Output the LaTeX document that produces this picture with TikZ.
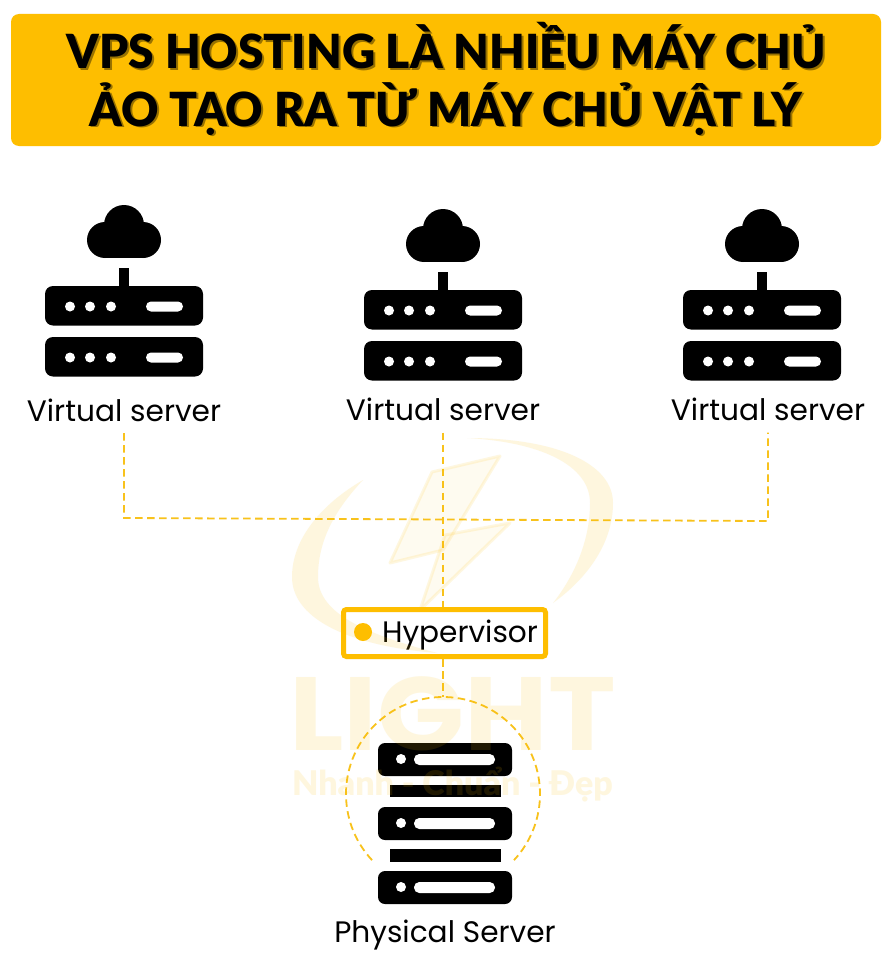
\documentclass[tikz,border=0pt]{standalone}
\usepackage{fontspec}
\setmainfont{Poppins}
\newfontfamily\titlefont[FakeStretch=0.98]{Lato Black}
\newfontfamily\wmfont[FakeStretch=1.1]{Poppins}
\newfontfamily\wmsubfont{Lato Black}
\definecolor{amber}{HTML}{FEBE00}
\definecolor{dash}{HTML}{F8C21C}
\tikzset{
  x=1pt,y=-1pt,
  unit/.style={fill=black,rounded corners=8pt},
  hole/.style={fill=white},
  dashline/.style={draw=dash,line width=1.8pt,dash pattern=on 7.5pt off 4.5pt},
  vlabel/.style={font=\fontsize{29.6}{30}\selectfont,inner sep=0pt,minimum height=46pt,text=black},
  ttl/.style={font=\titlefont\fontsize{47}{50}\selectfont,inner sep=0pt,anchor=base},
  wmark/.style={fill=amber,fill opacity=.13},
}
\newcommand{\vserver}[2]{%
 \begin{scope}[shift={(#1,#2)}]
  \fill[black] (0,225) circle[radius=20];
  \fill[black] (-19,240) circle[radius=18];
  \fill[black] (19,240) circle[radius=18];
  \fill[black] (-19,258) rectangle (19,225);
  \fill[black] (-5,268) rectangle (5,290);
  \foreach \yy in {286,337}{
   \fill[unit] (-79,\yy) rectangle (79,\yy+39.5);
   \foreach \xx in {-54,-34,-13}{\fill[hole] (\xx,\yy+20.5) circle[radius=5];}
   \fill[hole,rounded corners=5pt] (22,\yy+15.5) rectangle (59,\yy+25.5);
  }
 \end{scope}}
\newcommand{\pserver}[1]{%
  \fill[black,rounded corners=7pt] (378,#1) rectangle (512,#1+33);
  \fill[hole] (401,#1+16) circle[radius=5];
  \fill[hole,rounded corners=5.3pt] (414,#1+11) rectangle (495,#1+22);}
\begin{document}
\begin{tikzpicture}
\useasboundingbox (0,0) rectangle (891,955);
\fill[white] (0,0) rectangle (891,955);
% title
\fill[amber,rounded corners=8pt] (11,14) rectangle (881,146);
\node[ttl,text=black,opacity=.4] (ts1) at (448.5,71) {VPS HOSTING LÀ NHIỀU MÁY CHỦ};
\node[ttl,text=black,opacity=.4] (ts2) at (448,128) {ẢO TẠO RA TỪ MÁY CHỦ VẬT LÝ};
\node[ttl,text=black] (t1) at (446.5,69) {VPS HOSTING LÀ NHIỀU MÁY CHỦ};
\node[ttl,text=black] (t2) at (446,126) {ẢO TẠO RA TỪ MÁY CHỦ VẬT LÝ};
% virtual servers
\vserver{124}{0}
\vserver{443}{4}
\vserver{762}{4}
\node[vlabel] (v1) at (124,410) {Virtual server};
\node[vlabel] (v2) at (443,409.5) {Virtual server};
\node[vlabel] (v3) at (768,409.5) {Virtual server};
% hypervisor
\node[draw=amber,line width=5pt,rounded corners=3pt,fill=white,minimum width=202pt,minimum height=47pt,inner sep=0pt] (hyp) at (444.5,633) {};
\fill[amber] (363,632) circle[radius=9];
\node[inner sep=0pt,anchor=base,font=\fontsize{29.6}{30}\selectfont,text=black] (hyptext) at (460,642) {Hypervisor};
% connectors
\coordinate (j1) at (124,518);
\coordinate (j3) at (768,521);
\coordinate (ringtop) at (443,697);
\draw[dashline] (v1.south) -- (j1) -- (j3) -- (v3.south);
\draw[dashline] (v2.south) -- (v2.south |- hyp.north);
\draw[dashline] (ringtop |- hyp.south) -- (ringtop);
\draw[dashline] (ringtop) ++(0,97) ++(137:97) arc[start angle=137,end angle=403,radius=97];
% physical server
\pserver{743}
\pserver{807}
\pserver{871}
\fill[black] (390,785) rectangle (501,797);
\fill[black] (390,849) rectangle (501,862);
\node[inner sep=0pt,anchor=base,font=\fontsize{29.6}{30}\selectfont,text=black] (pl) at (445,942) {Physical Server};
% watermark
\node[inner sep=0pt,anchor=base,text=amber,text opacity=.13,font=\wmfont\fontsize{104}{105}\selectfont\bfseries] (wmlight) at (452.5,750) {LIGHT};
\node[inner sep=0pt,anchor=base,text=amber,text opacity=.13,font=\wmsubfont\fontsize{34}{35}\selectfont] (wmsub) at (452.5,795) {Nhanh - Chuẩn - Đẹp};
\fill[wmark] (467,438) .. controls (560,438) and (613,465) .. (613,503) .. controls (613,545) and (585,580) .. (553,603) .. controls (575,575) and (590,540) .. (590,503) .. controls (590,465) and (540,442) .. (467,438) -- cycle;
\fill[wmark] (363,480) .. controls (320,505) and (292,540) .. (292,577) .. controls (292,615) and (340,645) .. (437,653) .. controls (370,635) and (318,615) .. (318,577) .. controls (318,540) and (335,510) .. (363,480) -- cycle;
\fill[wmark,fill opacity=.06,draw=amber,draw opacity=.12,line width=3pt,line join=round] (500,456) -- (432,472) -- (390,563) -- (443,550) -- cycle;
\fill[wmark,fill opacity=.06,draw=amber,draw opacity=.12,line width=3pt,line join=round] (510,523) -- (445,535) -- (420,610) -- cycle;
\end{tikzpicture}
\end{document}
